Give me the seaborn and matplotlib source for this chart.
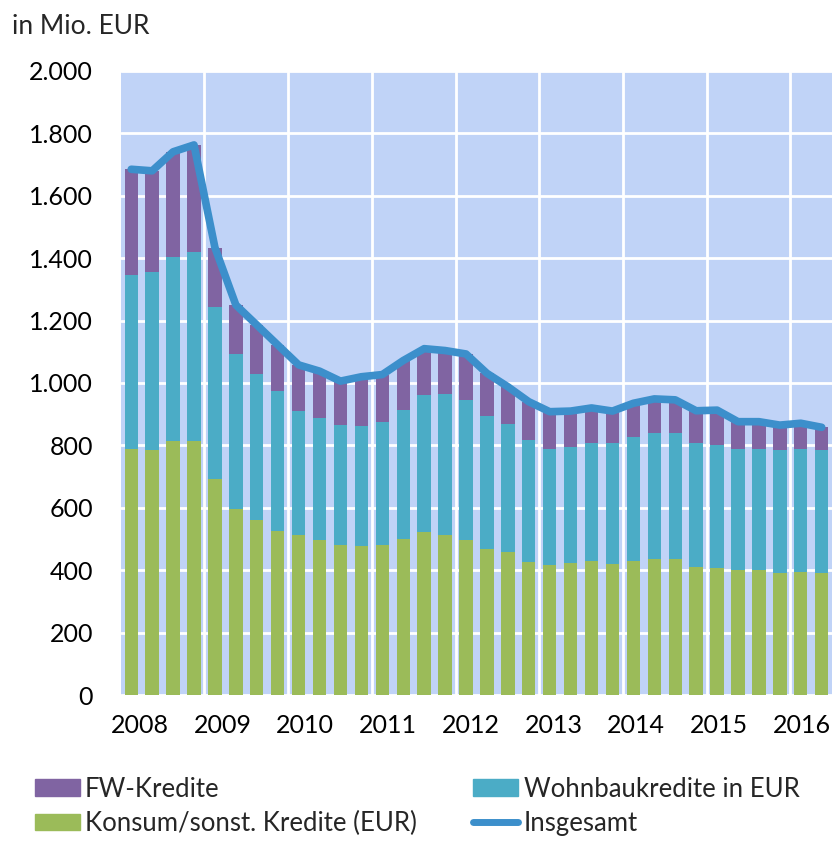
import matplotlib
matplotlib.use("Agg")
import matplotlib.pyplot as plt
import matplotlib.patches as mpatches
import matplotlib.lines as mlines
import numpy as np
import pandas as pd
import seaborn as sns

# quarterly values, 2008 Q1 .. 2016 Q2 (in Mio. EUR)
years = [2008, 2009, 2010, 2011, 2012, 2013, 2014, 2015, 2016]
quarters = [f"{y}Q{q}" for y in years for q in range(1, 5)][:34]

konsum = [788, 785, 814, 814, 692, 596, 561, 526, 512, 498, 481, 477,
          481, 500, 524, 513, 497, 468, 458, 427, 417, 422, 429, 420,
          429, 436, 436, 411, 408, 400, 400, 390, 394, 391]
wohnbau = [559, 571, 590, 607, 552, 497, 468, 447, 398, 389, 384, 386,
           393, 412, 438, 451, 449, 426, 412, 390, 373, 373, 379, 388,
           397, 404, 404, 397, 392, 387, 389, 395, 395, 394]
fw = [338, 324, 337, 342, 190, 157, 157, 149, 148, 151, 141, 157,
      153, 160, 148, 140, 147, 137, 118, 123, 118, 115, 112, 102,
      109, 109, 106, 103, 113, 89, 87, 80, 82, 73]

c_fw = "#8064A2"
c_wohn = "#4BACC6"
c_kons = "#9BBB59"
c_line = "#3C8FCB"

df = pd.DataFrame({"quartal": quarters, "konsum": konsum,
                   "wohnbau": wohnbau, "fw": fw})
df["eur_total"] = df["konsum"] + df["wohnbau"]
df["insgesamt"] = df["eur_total"] + df["fw"]
df["pos"] = np.arange(len(df))

sns.set_style("white")
plt.rcParams["font.family"] = ["Lato", "DejaVu Sans"]

fig = plt.figure(figsize=(8.33, 8.41), dpi=100)
ax = fig.add_axes([0.145, 0.1736, 0.854, 0.742])
ax.set_facecolor("#C0D3F7")

# stacked bars drawn as overlapping cumulative totals
bar_kw = dict(width=0.64, saturation=1, ax=ax, zorder=2,
              edgecolor="none", linewidth=0)
sns.barplot(data=df, x="quartal", y="insgesamt", color=c_fw, **bar_kw)
sns.barplot(data=df, x="quartal", y="eur_total", color=c_wohn, **bar_kw)
sns.barplot(data=df, x="quartal", y="konsum", color=c_kons, **bar_kw)
sns.lineplot(data=df, x="pos", y="insgesamt", color=c_line, lw=5.5,
             ax=ax, zorder=3, solid_capstyle="round", solid_joinstyle="round")

ax.set_xlim(-0.5, len(df) - 0.5)
ax.set_ylim(0, 2000)
ax.set_yticks(range(0, 2001, 200))
ax.set_yticklabels([f"{v:,}".replace(",", ".") for v in range(0, 2001, 200)])
# year labels sit slightly left of the group centre, like the date axis in the original
ax.set_xticks([i * 3.955 + 0.41 for i in range(len(years))])
ax.set_xticklabels([str(y) for y in years])
ax.set_xticks([i * 4 + 3.5 for i in range(len(years) - 1)], minor=True)
ax.grid(axis="y", which="major", color="white", lw=2)
ax.grid(axis="x", which="minor", color="white", lw=2)
ax.grid(axis="x", which="major", visible=False)
ax.set_axisbelow(True)
ax.tick_params(axis="both", which="both", length=0, labelsize=18, colors="black")
ax.tick_params(axis="y", pad=20)
ax.tick_params(axis="x", pad=14)
ax.set_xlabel("")
ax.set_ylabel("")
for s in ax.spines.values():
    s.set_visible(False)

fig.text(0.014, 0.969, "in Mio. EUR", fontsize=19, va="center", ha="left")

handles = [
    mpatches.Patch(color=c_fw, label="FW-Kredite"),
    mpatches.Patch(color=c_kons, label="Konsum/sonst. Kredite (EUR)"),
    mpatches.Patch(color=c_wohn, label="Wohnbaukredite in EUR"),
    mlines.Line2D([], [], color=c_line, lw=5, solid_capstyle="round",
                  label="Insgesamt"),
]
fig.legend(handles=handles, ncol=2, loc="lower left",
           bbox_to_anchor=(0.042, 0.006), frameon=False,
           fontsize=18.5, handlelength=1.75, handleheight=0.62,
           handletextpad=0.2, labelspacing=0.35, borderaxespad=0.0,
           borderpad=0.0, columnspacing=2.2)

fig.savefig("out.png", dpi=100)
